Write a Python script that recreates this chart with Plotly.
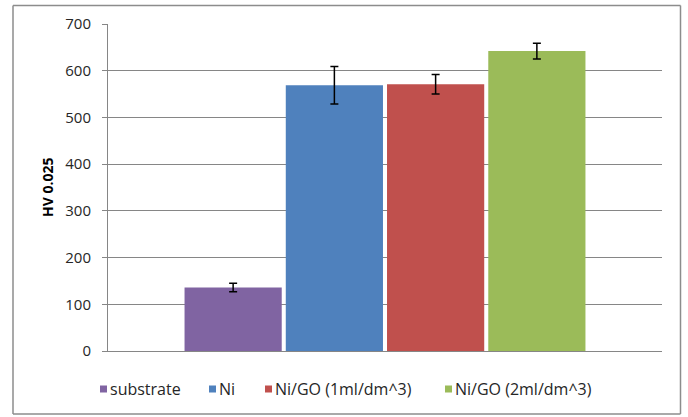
import plotly.graph_objects as go

# ---- data ----
series_names = ["substrate", "Ni", "Ni/GO (1ml/dm^3)", "Ni/GO (2ml/dm^3)"]
hardness = [136, 569, 571, 642]
hardness_err = [9, 40, 21, 17]
category = ["HV 0.025"]
colors = ["#8064A2", "#4F81BD", "#C0504D", "#9BBB59"]
y_ticks = [0, 100, 200, 300, 400, 500, 600, 700]

W, H = 688, 417
L, R, T, B = 108, 26, 24, 66
PW, PH = W - L - R, H - T - B


def px_x(px):
    return (px - L) / PW


def px_y(py):
    return (H - B - py) / PH


fig = go.Figure()
for name, val, err, col in zip(series_names, hardness, hardness_err, colors):
    fig.add_trace(go.Bar(
        x=category, y=[val], name=name,
        marker=dict(color=col, line=dict(width=0)),
        error_y=dict(type="data", array=[err], color="black", thickness=1.5, width=4),
        showlegend=False,
    ))

font_family = "Open Sans, Noto Sans, sans-serif"

# legend drawn as shapes + text annotations (Excel-style)
sq_left = [100, 209, 265, 445]
shapes = []
annotations = []
for lbl, col, sx in zip(series_names, colors, sq_left):
    shapes.append(dict(type="rect", xref="paper", yref="paper",
                       x0=px_x(sx), x1=px_x(sx + 7), y0=px_y(392.5), y1=px_y(385.5),
                       fillcolor=col, line=dict(width=0)))
    annotations.append(dict(text=lbl, xref="paper", yref="paper",
                            x=px_x(sx + 8), y=px_y(389), xanchor="left", yanchor="middle",
                            showarrow=False, font=dict(family=font_family, size=16, color="#262626")))

# y-axis title
annotations.append(dict(text="<b>HV 0.025</b>", xref="paper", yref="paper",
                        x=px_x(48), y=px_y(188), xanchor="center", yanchor="middle",
                        textangle=-90, showarrow=False,
                        font=dict(family=font_family, size=14, color="black")))

# outer chart border (four edges)
bx0, bx1, by0, by1 = px_x(13), px_x(680.5), px_y(414), px_y(5.5)
border = dict(color="#8c8c8c", width=1.5)
for (xa, ya, xb, yb) in [(bx0, by0, bx1, by0), (bx0, by1, bx1, by1),
                         (bx0, by0, bx0, by1), (bx1, by0, bx1, by1)]:
    shapes.append(dict(type="line", xref="paper", yref="paper",
                       x0=xa, y0=ya, x1=xb, y1=yb, line=border, layer="above"))

fig.update_layout(
    width=W, height=H,
    margin=dict(l=L, r=R, t=T, b=B, pad=0),
    paper_bgcolor="white", plot_bgcolor="white",
    barmode="group", bargap=0.269, bargroupgap=0.04,
    shapes=shapes, annotations=annotations,
    font=dict(family=font_family, color="#262626"),
)
fig.update_xaxes(type="category", range=[-0.5, 0.5], showticklabels=False,
                 showline=True, linecolor="#868686", linewidth=1, ticks="", showgrid=False)
fig.update_yaxes(range=[0, 700], tickvals=y_ticks, ticks="outside", ticklen=5,
                 tickcolor="#868686", showline=True, linecolor="#868686", linewidth=1,
                 showgrid=True, gridcolor="#868686", gridwidth=1, zeroline=False,
                 tickfont=dict(family=font_family, size=15, color="#262626"),
                 ticklabelstandoff=8)

fig.write_html("out.html", config={"displayModeBar": False},
               post_script="document.body.style.margin='0px';document.body.style.overflow='hidden';")
